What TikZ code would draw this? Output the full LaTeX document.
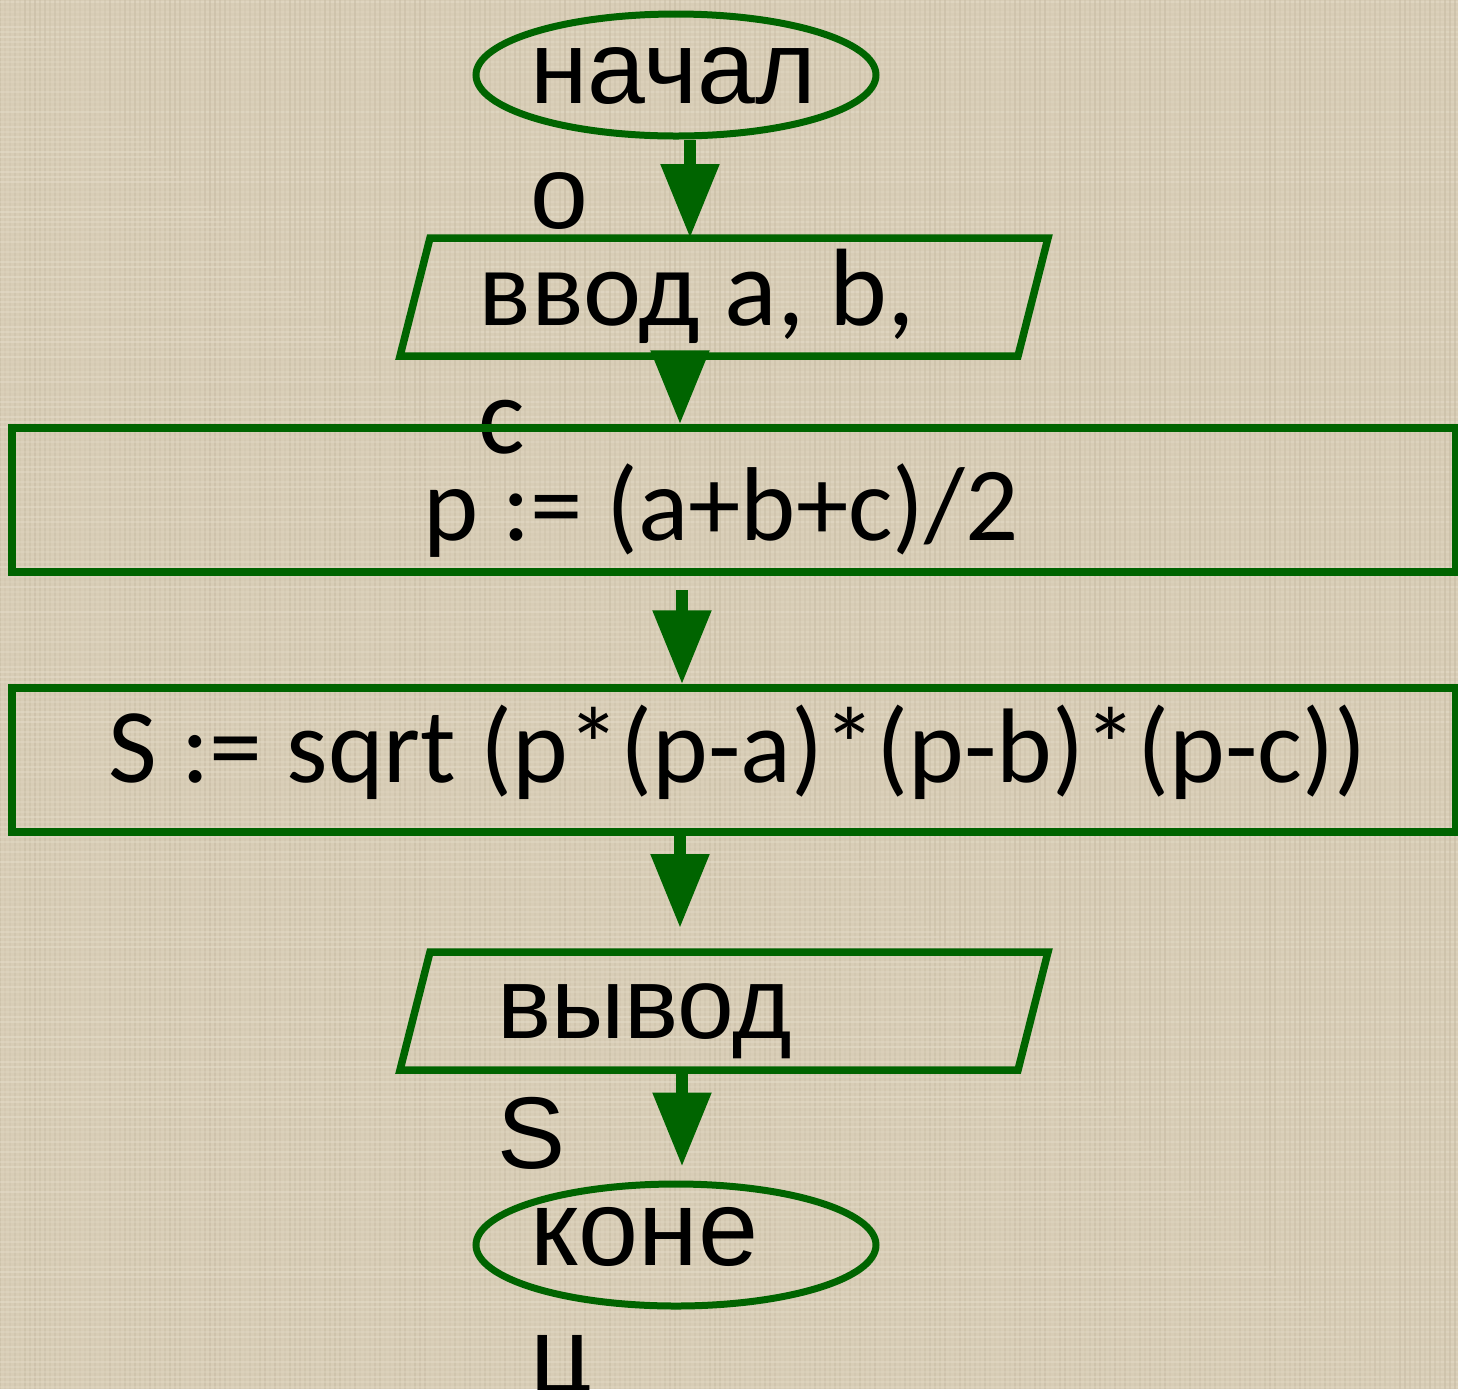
\documentclass[tikz,border=0pt]{standalone}
\usepackage{fontspec}
\setmainfont{Carlito}
\newfontfamily\arialfont{Liberation Sans}
\usetikzlibrary{arrows.meta,shapes.geometric}
\definecolor{flowgreen}{RGB}{0,100,0}
\definecolor{linen}{RGB}{216,205,182}
\definecolor{linendark}{RGB}{196,184,160}
\definecolor{linenlight}{RGB}{232,224,206}

\tikzset{
	box/.style={draw=flowgreen, line width=3.75pt, rectangle, inner sep=0pt, minimum width=722pt, minimum height=72pt},
	iobox/.style={rectangle, inner sep=0pt, outer sep=0pt, minimum width=324pt, minimum height=59pt},
	term/.style={draw=flowgreen, line width=3.5pt, ellipse, inner sep=0pt, minimum width=200pt, minimum height=61pt},
	flow/.style={draw=flowgreen, line width=6pt, -{Triangle[width=28pt,length=37pt]}},
	txt/.style={align=left, inner sep=0pt, text=black},
}
% slanted frame round an input/output block
\def\ioframe(#1){\draw[flowgreen, line width=3.75pt, line join=miter] (#1.south west) -- ([xshift=15pt]#1.north west) -- (#1.north east) -- ([xshift=-15pt]#1.south east) -- cycle;}

\begin{document}
\begin{tikzpicture}[x=0.5pt, y=-0.5pt]
			%%%%% START %%%%%
			
			\fill[linen] (0, 0) rectangle (1458, 1389);
			\useasboundingbox (0, 0) rectangle (1458, 1389);
			
			% woven cloth
			\pgfmathsetseed{7}
			\foreach \i in {0,5,...,1455}{
				\pgfmathsetmacro\op{0.15+0.35*rnd}
				\draw[linendark, line width=0.8pt, opacity=\op] (\i, 0) -- (\i, 1389);
				\draw[linenlight, line width=0.8pt, opacity=\op] (0, \i+2) -- (1458, \i+2);
			}
			
			% texts first, the green lines go over them
			\node[txt, anchor=base west, font=\arialfont\fontsize{52pt}{62.5pt}\selectfont] (startlbl) at (530, 228) {начал\\о};
			\node[txt, anchor=base west, font=\fontsize{55pt}{64pt}\selectfont] (inlbl) at (478, 453) {ввод a, b,\\c};
			\node[txt, anchor=base, font=\fontsize{52.5pt}{63pt}\selectfont] (plbl) at (721, 540) {p := (a+b+c)/2};
			\node[txt, anchor=base, font=\fontsize{53pt}{63pt}\selectfont] (slbl) at (738, 782) {S := sqrt (p*(p-a)*(p-b)*(p-c))};
			\node[txt, anchor=base west, font=\arialfont\fontsize{51pt}{65pt}\selectfont] (outlbl) at (497, 1168) {вывод\\S};
			\node[txt, anchor=base west, font=\arialfont\fontsize{54pt}{63.5pt}\selectfont] (endlbl) at (530, 1392) {коне\\ц};
			
			% blocks
			\node[term] (start) at (676, 75) {};
			\node[iobox] (in) at (724, 297) {};
			\ioframe(in)
			\node[box] (calcp) at (734, 500) {};
			\node[box] (calcs) at (734, 760) {};
			\node[iobox] (out) at (724, 1011) {};
			\ioframe(out)
			\node[term] (stop) at (676, 1245) {};
			
			% arrows
			\draw[flow] ([xshift=7pt]start.south) -- ([xshift=7pt]start.south |- in.north);
			\draw[flow] ([xshift=-22pt]in.south) -- ([xshift=-22pt]in.south |- calcp.north);
			\draw[flow, shorten <=7pt] ([xshift=-26pt]calcp.south) -- ([xshift=-26pt]calcp.south |- calcs.north);
			\draw[flow] ([xshift=-27pt]calcs.south) -- ([xshift=-27pt, yshift=12pt]calcs.south |- out.north);
			\draw[flow] ([xshift=-21pt]out.south) -- ([xshift=-21pt, yshift=7pt]out.south |- stop.north);
			
			%%%%% END %%%%%
\end{tikzpicture}
\end{document}
